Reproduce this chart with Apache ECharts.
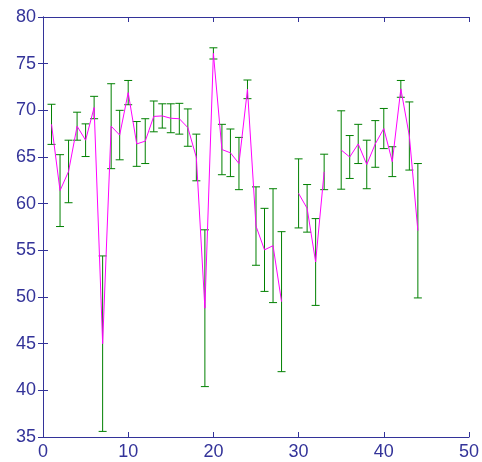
<!DOCTYPE html>
<html>
<head>
<meta charset="utf-8">
<script src="https://cdn.jsdelivr.net/npm/echarts@6/dist/echarts.min.js"></script>
<style>
  html, body { margin: 0; padding: 0; background: #fff; }
  #main { width: 482px; height: 462px; }
</style>
</head>
<body>
<div id="main"></div>
<script>
// sample index 1..44, null = missing point (gap in the line)
var xs = [1, 2, 3, 4, 5, 6, 7, 8, 9, 10, 11, 12, 13, 14, 15, 16, 17, 18, 19, 20, 21, 22,
  23, 24, 25, 26, 27, 28, 29, 30, 31, 32, 33, 34, 35, 36, 37, 38, 39, 40, 41, 42, 43, 44];
var means = [68.5, 61.4, 63.45, 68.3, 66.8, 70.3, 45.0, 68.3, 67.35, 71.9, 66.4, 66.7,
  69.35, 69.4, 69.15, 69.1, 68.15, 64.95, 48.8, 76.1, 65.8, 65.45, 64.3, 72.25,
  57.6, 55.05, 55.5, 49.5, null, 61.1, 59.5, 53.75, 63.4, null, 65.75, 65.0,
  66.4, 64.2, 66.4, 68.05, 64.5, 72.3, 67.25, 57.1];
var errs = [2.15, 3.85, 3.35, 1.5, 1.75, 1.2, 9.4, 4.55, 2.65, 1.3, 2.4, 2.4,
  1.65, 1.3, 1.55, 1.65, 2.0, 2.5, 8.4, 0.6, 2.7, 2.55, 2.8, 1.0,
  4.2, 4.45, 6.1, 7.5, null, 3.7, 2.55, 4.65, 1.9, null, 4.2, 2.3,
  2.1, 2.6, 2.5, 2.15, 1.6, 0.9, 3.65, 7.2];
var xTicks = [0, 10, 20, 30, 40, 50];
var yTicks = [35, 40, 45, 50, 55, 60, 65, 70, 75, 80];

var axisColor = "#333399";

var lineData = [];
var barData = [];
for (var i = 0; i < xs.length; i++) {
  lineData.push([xs[i], means[i] == null ? "-" : means[i]]);
  if (means[i] != null) barData.push([xs[i], means[i], errs[i]]);
}

function errorBar(params, api) {
  var x = api.value(0);
  var y = api.value(1);
  var e = api.value(2);
  var hi = api.coord([x, y + e]);
  var lo = api.coord([x, y - e]);
  var cap = 4;
  var style = { stroke: "#008000", lineWidth: 1 };
  return {
    type: "group",
    children: [
      { type: "line", shape: { x1: hi[0], y1: hi[1], x2: lo[0], y2: lo[1] }, style: style },
      { type: "line", shape: { x1: hi[0] - cap, y1: hi[1], x2: hi[0] + cap, y2: hi[1] }, style: style },
      { type: "line", shape: { x1: lo[0] - cap, y1: lo[1], x2: lo[0] + cap, y2: lo[1] }, style: style }
    ]
  };
}

var chart = echarts.init(document.getElementById("main"));

var labelStyle = {
  color: axisColor,
  fontSize: 18,
  fontFamily: "Liberation Sans"
};

chart.setOption({
  animation: false,
  grid: { left: 43, right: 12, top: 17, bottom: 25 },
  xAxis: [
    {
      type: "value",
      min: xTicks[0],
      max: xTicks[xTicks.length - 1],
      interval: 10,
      axisLine: { lineStyle: { color: axisColor, width: 1 } },
      axisTick: { inside: true, length: 5, lineStyle: { color: axisColor } },
      axisLabel: Object.assign({ margin: 6 }, labelStyle),
      splitLine: { show: false }
    },
    {
      type: "value",
      position: "top",
      min: xTicks[0],
      max: xTicks[xTicks.length - 1],
      interval: 10,
      axisLine: { lineStyle: { color: axisColor, width: 1 } },
      axisTick: { inside: true, length: 5, lineStyle: { color: axisColor } },
      axisLabel: { show: false },
      splitLine: { show: false }
    }
  ],
  yAxis: [
    {
      type: "value",
      min: yTicks[0],
      max: yTicks[yTicks.length - 1],
      interval: 5,
      axisLine: { lineStyle: { color: axisColor, width: 1 } },
      axisTick: { inside: true, length: 5, lineStyle: { color: axisColor } },
      axisLabel: Object.assign({ margin: 7 }, labelStyle),
      splitLine: { show: false }
    },
    {
      type: "value",
      position: "right",
      min: yTicks[0],
      max: yTicks[yTicks.length - 1],
      interval: 5,
      axisLine: { lineStyle: { color: axisColor, width: 1 } },
      axisTick: { inside: true, length: 5, lineStyle: { color: axisColor } },
      axisLabel: { show: false },
      splitLine: { show: false }
    }
  ],
  series: [
    {
      type: "custom",
      renderItem: errorBar,
      encode: { x: 0, y: 1 },
      data: barData,
      z: 2
    },
    {
      type: "line",
      data: lineData,
      connectNulls: false,
      showSymbol: false,
      symbol: "none",
      lineStyle: { color: "#ff00ff", width: 1 },
      z: 3
    }
  ]
});
</script>
</body>
</html>
